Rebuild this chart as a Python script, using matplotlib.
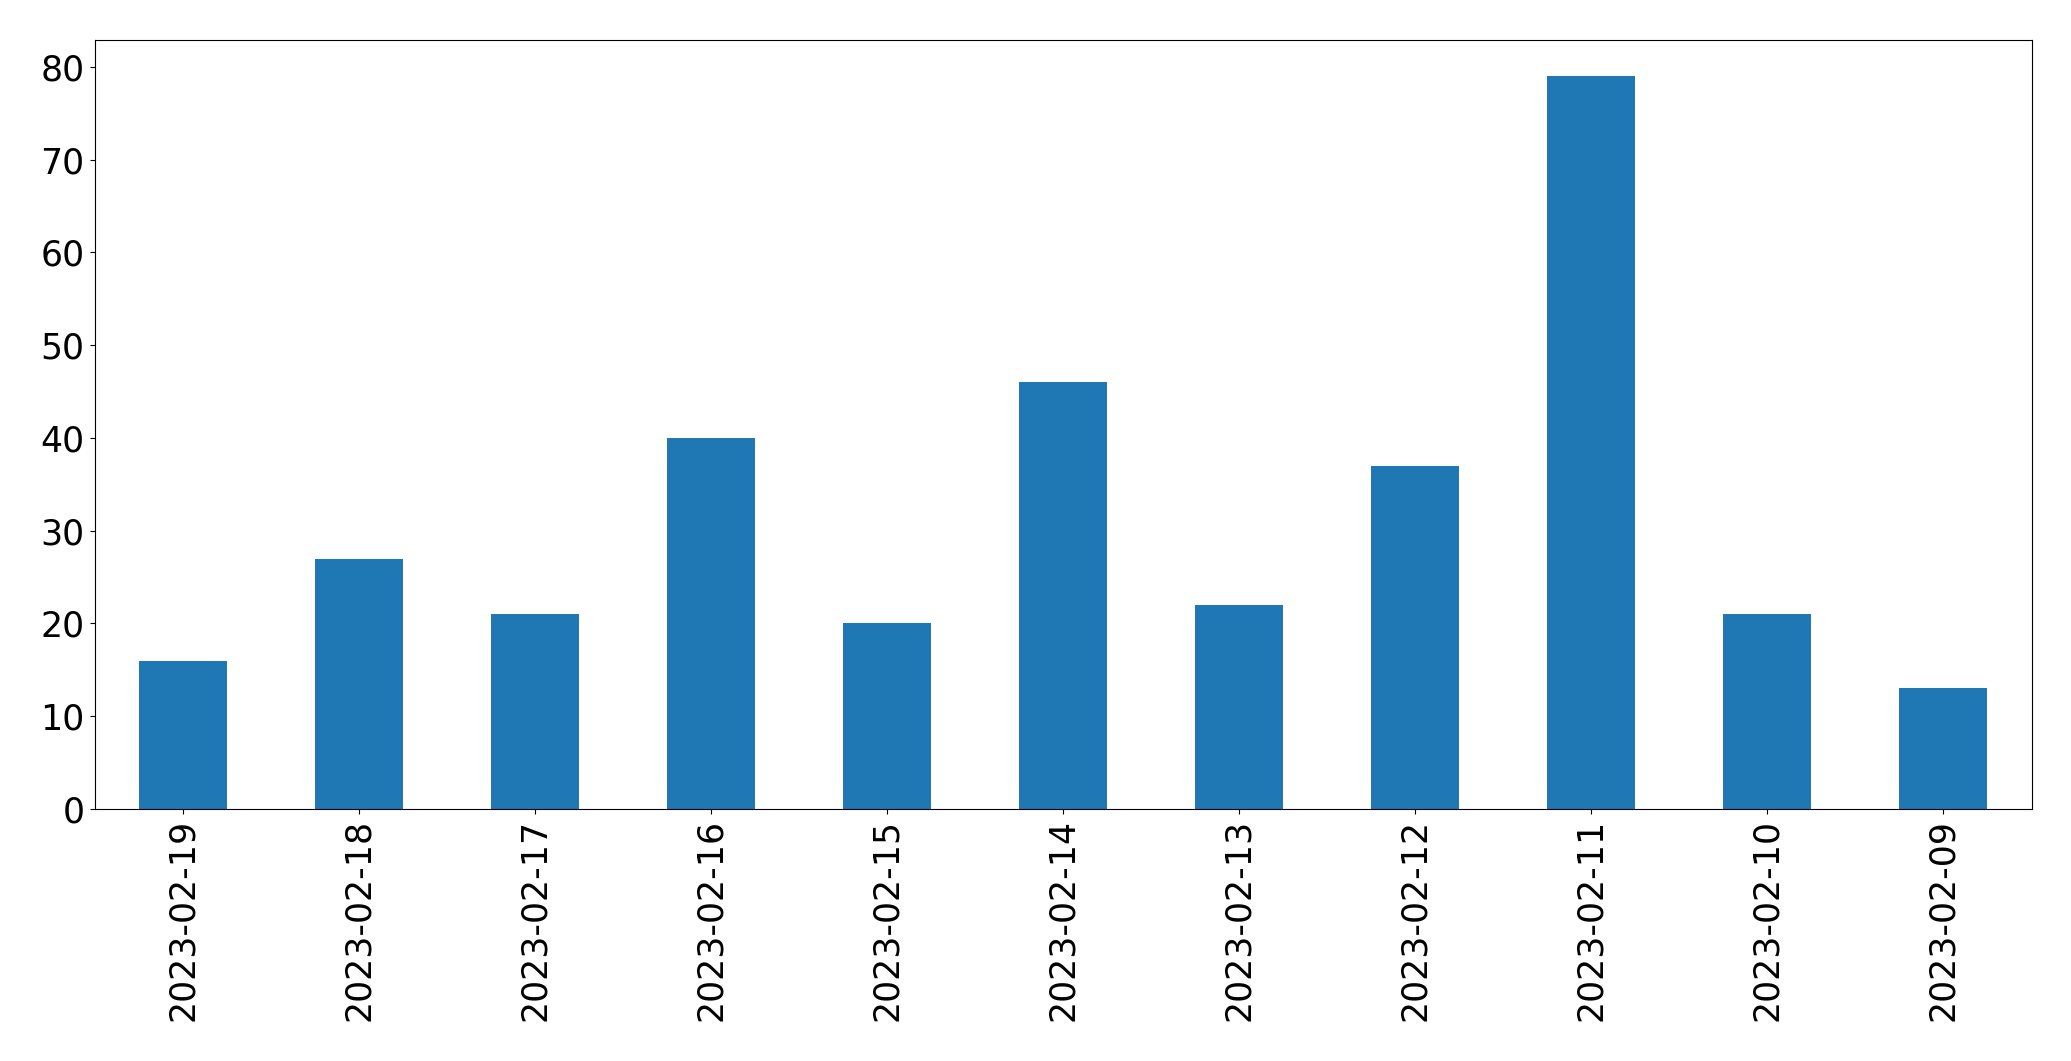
import matplotlib
matplotlib.use("Agg")
import matplotlib.pyplot as plt
import numpy as np

dates = ["2023-02-19", "2023-02-18", "2023-02-17", "2023-02-16", "2023-02-15",
         "2023-02-14", "2023-02-13", "2023-02-12", "2023-02-11", "2023-02-10",
         "2023-02-09"]
counts = [16, 27, 21, 40, 20, 46, 22, 37, 79, 21, 13]


def main():
    fig, ax = plt.subplots(figsize=(20.71, 10.61), dpi=100)
    fig.subplots_adjust(left=94.5 / 2071, right=2031.5 / 2071,
                        top=1 - 39.5 / 1061, bottom=1 - 809 / 1061)

    x = np.arange(len(dates))
    ax.bar(x, counts, width=0.5, color="#1f77b4")

    ax.set_xlim(-0.5, len(dates) - 0.5)
    ax.set_ylim(0, max(counts) * 1.05)
    ax.set_xticks(x)
    ax.set_xticklabels(dates, rotation=90)
    ax.tick_params(axis="both", labelsize=25, length=3.8)

    fig.savefig("out.png", dpi=100)


if __name__ == "__main__":
    main()
